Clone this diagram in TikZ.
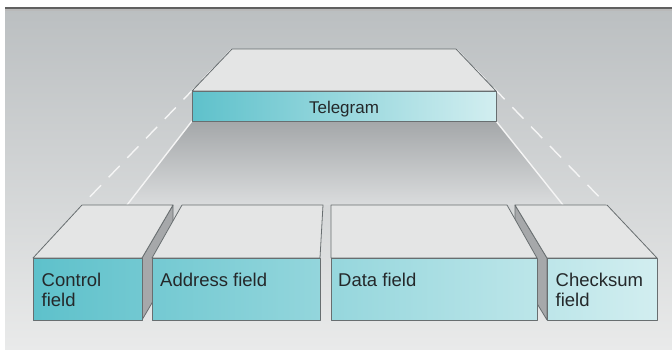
\documentclass[tikz,border=0pt]{standalone}
\usepackage{fontspec}
\setmainfont{Liberation Sans}
\definecolor{bgtop}{RGB}{187,191,193}
\definecolor{bgbot}{RGB}{233,234,234}
\definecolor{shadetop}{RGB}{164,167,169}
\definecolor{shadebot}{RGB}{218,220,221}
\definecolor{edge}{RGB}{104,110,112}
\definecolor{lid}{RGB}{228,229,229}
\definecolor{flank}{RGB}{166,168,170}
\definecolor{tealA}{RGB}{94,193,203}
\definecolor{tealB}{RGB}{210,238,240}
\definecolor{ink}{RGB}{36,40,42}
\begin{document}
\begin{tikzpicture}[x=1pt,y=-1pt,
    face/.style={draw=edge,line width=0.8pt,line join=round},
    lidface/.style={face,fill=lid},
    flankface/.style={face,fill=flank},
    guide/.style={white!92!gray,line width=1.4pt},
    label/.style={anchor=north west,inner sep=0pt,text=ink,align=left,
      font=\fontsize{18.5}{20}\selectfont}]
    \useasboundingbox (0,0) rectangle (672,349);
    % Backdrop
    \shade[top color=bgtop,bottom color=bgbot] (5,9) rectangle (672,349);
    \draw[gray!75!black,line width=1.6pt] (5,8) -- (672,8);
    \draw[gray!55,line width=1.5pt] (5,10) -- (672,10);
    % Corners
    \coordinate (tg-fl) at (192,121);
    \coordinate (tg-fr) at (496,121);
    \coordinate (tg-bl) at (232,49);
    \coordinate (tg-br) at (456,49);
    \coordinate (row-l) at (127,205);
    \coordinate (row-r) at (563,205);
    \coordinate (row-bl) at (82,205);
    \coordinate (row-br) at (607,205);
    % Projection
    \shade[top color=shadetop,bottom color=shadebot]
      (tg-fl) -- (tg-fr) -- (row-r) -- (row-l) -- cycle;
    \draw[guide] (tg-fl) -- (row-l);
    \draw[guide] (tg-fr) -- (row-r);
    \draw[guide,dash pattern=on 16pt off 11pt] (tg-bl) -- (row-bl);
    \draw[guide,dash pattern=on 16pt off 11pt] (tg-br) -- (row-br);
    % Telegram
    \draw[lidface] (192,91) -- (tg-bl) -- (tg-br) -- (496,91) -- cycle;
    \path[face,left color=tealA,right color=tealB] (192,91) rectangle (tg-fr);
    \node[anchor=base,inner sep=0pt,text=ink,font=\fontsize{17}{20}\selectfont]
      (telegram) at (344,113) {Telegram};
    % Fields
    \draw[flankface] (142,258) -- (173,205) -- (173,267) -- (142,320) -- cycle;
    \draw[flankface] (547,258) -- (515,205) -- (515,267) -- (547,320) -- cycle;
    \draw[lidface] (33,258) -- (row-bl) -- (173,205) -- (142,258) -- cycle;
    \path[face,left color=tealA,right color=tealB!17!tealA] (33,258) rectangle (142,320);
    \node[label] (control) at (41.5,272.5) {Control\\field};
    \draw[lidface] (152,258) -- (182,205) -- (323,205) -- (320,258) -- cycle;
    \path[face,left color=tealB!19!tealA,right color=tealB!46!tealA] (152,258) rectangle (320,320);
    \node[label] (address) at (160,272.5) {Address field};
    \draw[lidface] (331,258) -- (331,205) -- (507,205) -- (537,258) -- cycle;
    \path[face,left color=tealB!48!tealA,right color=tealB!81!tealA] (331,258) rectangle (537,320);
    \node[label] (data) at (338,272.5) {Data field};
    \draw[lidface] (547,258) -- (515,205) -- (row-br) -- (657,258) -- cycle;
    \path[face,left color=tealB!82!tealA,right color=tealB] (547,258) rectangle (657,320);
    \node[label] (checksum) at (555.5,272.5) {Checksum\\field};
\end{tikzpicture}
\end{document}
